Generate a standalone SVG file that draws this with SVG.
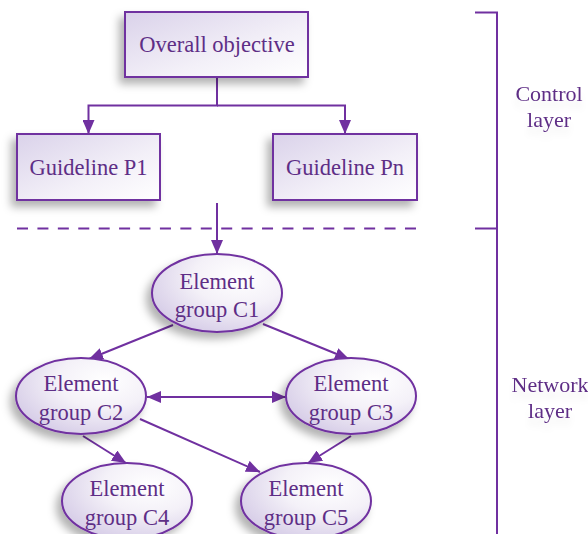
<svg xmlns="http://www.w3.org/2000/svg" width="588" height="534" viewBox="0 0 588 534">
<style>
.box{stroke:#7030A0;stroke-width:2;fill:url(#boxGrad);filter:url(#shadow)}
.ell{stroke:#7030A0;stroke-width:2;fill:url(#ellGrad);filter:url(#shadow)}
.t{font-family:"Liberation Serif","Times New Roman",serif;font-size:22.5px;fill:#5E2E86;text-anchor:middle}
.lbl{font-family:"Liberation Serif","Times New Roman",serif;font-size:22px;fill:#5E2E86;text-anchor:middle;filter:url(#tshadow)}
.c{stroke:#7030A0;stroke-width:2;fill:none}
</style>
<defs>
<linearGradient id="boxGrad" x1="0" y1="0" x2="1" y2="1">
<stop offset="0" stop-color="#DAD2EA"/>
<stop offset="0.6" stop-color="#F3F0F8"/>
<stop offset="1" stop-color="#FFFFFF"/>
</linearGradient>
<radialGradient id="ellGrad" cx="0.68" cy="0.3" r="0.8">
<stop offset="0" stop-color="#FFFFFF"/>
<stop offset="0.45" stop-color="#F4F1F8"/>
<stop offset="1" stop-color="#D4CAE6"/>
</radialGradient>
<filter id="shadow" x="-20%" y="-20%" width="140%" height="150%">
<feDropShadow dx="-5" dy="6" stdDeviation="4" flood-color="#000" flood-opacity="0.3"/>
</filter>
<filter id="tshadow" x="-20%" y="-20%" width="140%" height="160%">
<feDropShadow dx="0" dy="8" stdDeviation="3" flood-color="#000" flood-opacity="0.06"/>
</filter>
<marker id="arr" markerUnits="userSpaceOnUse" markerWidth="15" markerHeight="12" refX="14" refY="6" orient="auto">
<path d="M0,0 L14,6 L0,12 Z" fill="#7030A0"/>
</marker>
<marker id="arrS" markerUnits="userSpaceOnUse" markerWidth="15" markerHeight="12" refX="14" refY="6" orient="auto-start-reverse">
<path d="M0,0 L14,6 L0,12 Z" fill="#7030A0"/>
</marker>
</defs>

<g id="connectors">
<path class="c" d="M217 77 V105.5 H88.5 V134" marker-end="url(#arr)"/>
<path class="c" d="M217 105.5 H345 V134" marker-end="url(#arr)"/>
<line class="c" x1="17" y1="228.5" x2="416" y2="228.5" stroke-dasharray="11 9.42"/>
<line class="c" x1="217" y1="203" x2="217" y2="254" marker-end="url(#arr)"/>
<line class="c" x1="173" y1="325" x2="89" y2="359" marker-end="url(#arr)"/>
<line class="c" x1="263" y1="324" x2="349" y2="359" marker-end="url(#arr)"/>
<line class="c" x1="147" y1="397" x2="286" y2="397" marker-start="url(#arrS)" marker-end="url(#arr)"/>
<line class="c" x1="83" y1="436" x2="126" y2="463" marker-end="url(#arr)"/>
<line class="c" x1="140" y1="419" x2="260" y2="472" marker-end="url(#arr)"/>
<line class="c" x1="351" y1="436" x2="308" y2="463" marker-end="url(#arr)"/>
</g>

<g id="bracket">
<path class="c" d="M475 12.5 H497 V534"/>
<line class="c" x1="475" y1="228.5" x2="497" y2="228.5"/>
</g>

<g id="overall">
<rect class="box" x="125" y="12" width="183" height="65"/>
<text class="t" x="217" y="52">Overall objective</text>
</g>
<g id="p1">
<rect class="box" x="17" y="134" width="143" height="66"/>
<text class="t" x="88.5" y="175">Guideline P1</text>
</g>
<g id="pn">
<rect class="box" x="273" y="134" width="144" height="66"/>
<text class="t" x="345" y="175">Guideline Pn</text>
</g>

<g id="c1">
<ellipse class="ell" cx="217" cy="293" rx="65" ry="39"/>
<text class="t" x="217" y="289">Element</text>
<text class="t" x="217" y="317">group C1</text>
</g>
<g id="c2">
<ellipse class="ell" cx="81" cy="396" rx="65" ry="38"/>
<text class="t" x="81" y="391">Element</text>
<text class="t" x="81" y="420">group C2</text>
</g>
<g id="c3">
<ellipse class="ell" cx="351" cy="396" rx="65" ry="38"/>
<text class="t" x="351" y="391">Element</text>
<text class="t" x="351" y="420">group C3</text>
</g>
<g id="c4">
<ellipse class="ell" cx="127" cy="501" rx="65" ry="38"/>
<text class="t" x="127" y="496">Element</text>
<text class="t" x="127" y="525">group C4</text>
</g>
<g id="c5">
<ellipse class="ell" cx="306" cy="501" rx="65" ry="38"/>
<text class="t" x="306" y="496">Element</text>
<text class="t" x="306" y="525">group C5</text>
</g>

<g id="control-label">
<text class="lbl" x="549" y="101">Control</text>
<text class="lbl" x="549" y="127">layer</text>
</g>
<g id="network-label">
<text class="lbl" x="550" y="392">Network</text>
<text class="lbl" x="550" y="418">layer</text>
</g>
</svg>
